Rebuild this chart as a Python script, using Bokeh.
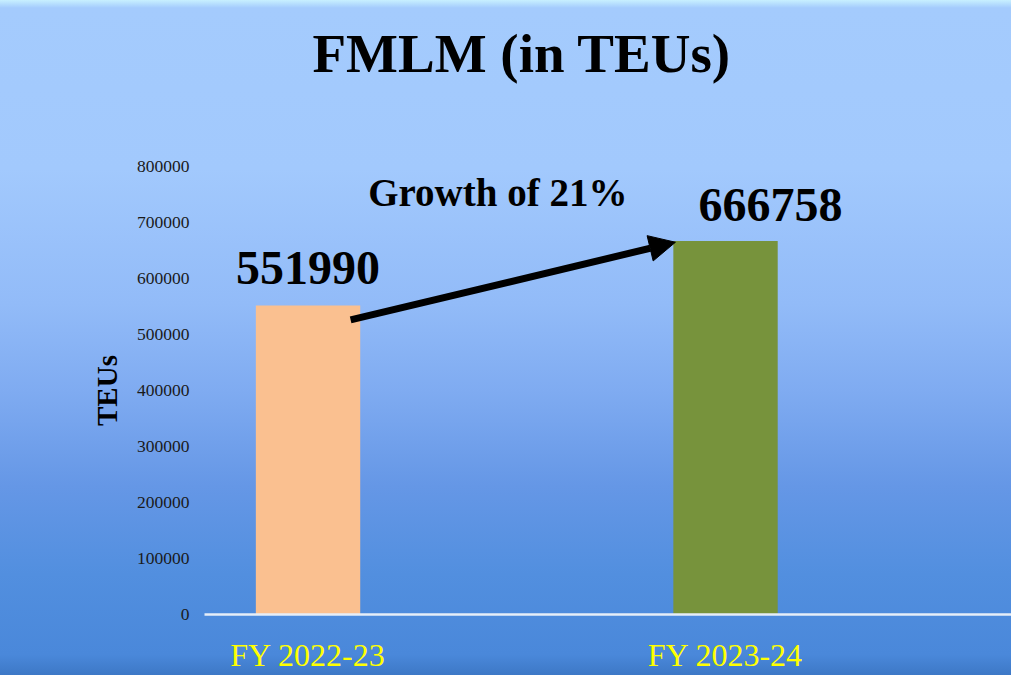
from bokeh.plotting import figure
from bokeh.models import (ColumnDataSource, Range1d, FixedTicker, NumeralTickFormatter,
                          Label, Arrow, NormalHead, Title)
from bokeh.embed import file_html
from bokeh.resources import INLINE
from bokeh.core.properties import value

# ---- data ----
title_text = "FMLM (in TEUs)"
categories = ["FY 2022-23", "FY 2023-24"]
teus = [551990, 666758]
bar_colors = ["#FAC090", "#77933C"]
y_ticks = [0, 100000, 200000, 300000, 400000, 500000, 600000, 700000, 800000]
growth_text = "Growth of 21%"

xpos = list(range(len(categories)))
BAR_W = 0.25

src = ColumnDataSource(dict(
    x=xpos, top=teus, color=bar_colors,
    label=[str(v) for v in teus],
    xoff=[0, 45], yoff=[-37, -36],
))

p = figure(width=1011, height=675, output_backend="svg", toolbar_location=None,
           x_range=Range1d(-0.248, 1.685), y_range=Range1d(0, 800000),
           min_border_left=204, min_border_right=0, min_border_top=166,
           min_border_bottom=60)

p.styles = {"background": "linear-gradient(to bottom, #c8f0ff 0px, #a4cbfd 8px, #a2c9fd 25%, "
                          "#92bbf8 45%, #7fabf1 58%, #6597e6 72%, #528fdf 85%, #4a88da 97%, #3d78c6 100%)"}
p.background_fill_alpha = 0
p.border_fill_alpha = 0
p.outline_line_color = None
p.xgrid.grid_line_color = None
p.ygrid.grid_line_color = None

# spacer between frame and title, then the title itself
p.add_layout(Title(text=" ", text_font_size="69px", text_font="Liberation Serif", standoff=0), "above")
p.add_layout(Title(text=title_text, text_font="Liberation Serif", text_font_style="bold",
                   text_font_size="55px", text_color="black", align="left", offset=108,
                   standoff=10), "above")

# bars
p.vbar(x="x", top="top", width=BAR_W, bottom=0, color="color", source=src, line_color=None)

# value labels
p.text(x="x", y="top", text="label", source=src, x_offset="xoff", y_offset="yoff",
       text_align="center", text_baseline="alphabetic",
       text_font=value("Liberation Serif"), text_font_style="bold",
       text_font_size="48px", text_color="black")

# growth arrow
p.add_layout(Arrow(x_start=xpos[0] + 0.102, y_start=teus[0] - 26000,
                   x_end=xpos[1] - BAR_W / 2 + 0.005, y_end=teus[1] - 2000,
                   line_width=7, line_color="black",
                   end=NormalHead(size=26, fill_color="black", line_color="black")))

p.add_layout(Label(x=(xpos[0] + xpos[1]) / 2, y=teus[1] + 62000, x_offset=-19, y_offset=14,
                   text=growth_text, text_align="center", text_baseline="alphabetic",
                   text_font="Liberation Serif", text_font_style="bold",
                   text_font_size="39px", text_color="black"))

# axes
xa = p.xaxis[0]
xa.ticker = FixedTicker(ticks=xpos)
xa.major_label_overrides = {i: c for i, c in zip(xpos, categories)}
xa.major_label_text_font = "Liberation Serif"
xa.major_label_text_font_size = "32px"
xa.major_label_text_color = "#FFFF00"
xa.major_tick_line_color = None
xa.minor_tick_line_color = None
xa.axis_line_color = "#E6EEF8"
xa.axis_line_width = 2.5
xa.major_label_standoff = 16

ya = p.yaxis[0]
ya.ticker = FixedTicker(ticks=y_ticks)
ya.formatter = NumeralTickFormatter(format="0")
ya.major_label_text_font = "Liberation Serif"
ya.major_label_text_font_size = "17.5px"
ya.major_label_text_color = "#1a1a1a"
ya.major_tick_line_color = None
ya.minor_tick_line_color = None
ya.axis_line_color = None
ya.major_label_standoff = 9
ya.axis_label = "TEUs"
ya.axis_label_text_font = "Liberation Serif"
ya.axis_label_text_font_style = "bold"
ya.axis_label_text_font_size = "29px"
ya.axis_label_text_color = "black"
ya.axis_label_standoff = 11

open("out.html", "w").write(file_html(p, INLINE))
